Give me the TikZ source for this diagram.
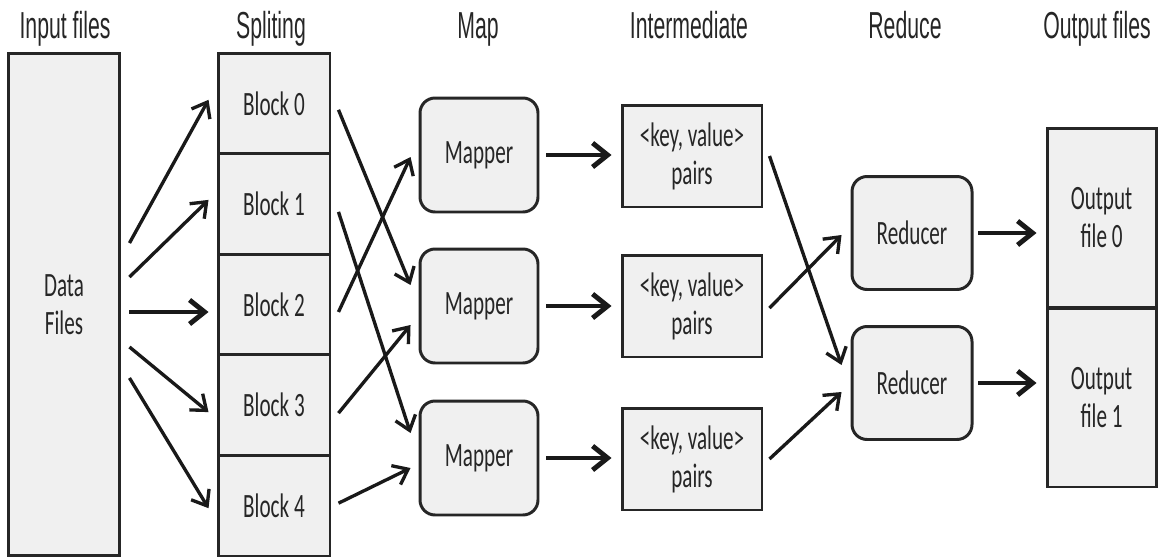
\documentclass[tikz,border=0pt]{standalone}
\usepackage{fontspec}
\setmainfont{Carlito}
\newfontfamily\headfamily{Liberation Sans}
\usepackage{graphicx}
\usetikzlibrary{arrows.meta}
% the source picture is squeezed sideways, so the texts are too
\newcommand{\sq}[1]{\scalebox{0.62}[1]{#1}}
\newcommand{\hq}[1]{\scalebox{0.565}[1]{#1}}
\tikzset{
    stage/.style={font=\headfamily\fontsize{21.4}{24}\selectfont, text=black!85, anchor=base},
    box/.style={draw=black!85, line width=1.7pt, fill=black!6, text=black!85,
        align=center, inner sep=0pt, font=\fontsize{19.4}{21.6}\selectfont},
    filebox/.style={box, minimum width=2.24cm, minimum height=10.06cm},
    blockbox/.style={box, minimum width=2.24cm, minimum height=2.012cm},
    mapbox/.style={box, rounded corners=0.3cm, minimum width=2.36cm, minimum height=2.28cm},
    pairbox/.style={box, minimum width=2.8cm, minimum height=2.04cm},
    redbox/.style={box, rounded corners=0.3cm, minimum width=2.4cm, minimum height=2.26cm},
    outbox/.style={box, minimum width=2.18cm, minimum height=3.58cm},
    flow/.style={draw=black!90, line width=1.9pt, -{Straight Barb[length=0.27cm, width=0.42cm]}},
    bigflow/.style={draw=black!90, line width=2.8pt, -{Straight Barb[length=0.3cm, width=0.48cm]}}
}
\begin{document}
\begin{tikzpicture}[x=0.02cm, y=-0.02cm]
    \useasboundingbox (0,0) rectangle (1158,558);
    % column titles
    \node[stage] (tin) at (65,38) {\hq{Input files}};
    \node[stage] (tsp) at (271,38) {\hq{Spliting}};
    \node[stage] (tmap) at (478,38) {\hq{Map}};
    \node[stage] (tint) at (689,38) {\hq{Intermediate}};
    \node[stage] (tred) at (905,38) {\hq{Reduce}};
    \node[stage] (tout) at (1097,38) {\hq{Output files}};
    % input
    \node[filebox] (data) at (64,304.5) {\sq{Data}\\\sq{Files}};
    % splits
    \node[blockbox] (b0) at (274,103.3) {\sq{Block 0}};
    \node[blockbox] (b1) at (274,203.9) {\sq{Block 1}};
    \node[blockbox] (b2) at (274,304.5) {\sq{Block 2}};
    \node[blockbox] (b3) at (274,405.1) {\sq{Block 3}};
    \node[blockbox] (b4) at (274,505.7) {\sq{Block 4}};
    % mappers
    \node[mapbox] (m1) at (479,155) {\sq{Mapper}};
    \node[mapbox] (m2) at (479,306) {\sq{Mapper}};
    \node[mapbox] (m3) at (479,458) {\sq{Mapper}};
    % intermediate pairs
    \node[pairbox] (p1) at (692,156) {\sq{<key, value>}\\\sq{pairs}};
    \node[pairbox] (p2) at (692,306) {\sq{<key, value>}\\\sq{pairs}};
    \node[pairbox] (p3) at (692,459) {\sq{<key, value>}\\\sq{pairs}};
    % reducers
    \node[redbox] (r1) at (912,233) {\sq{Reducer}};
    \node[redbox] (r2) at (912,383) {\sq{Reducer}};
    % output
    \node[outbox] (o0) at (1101.5,218) {\sq{Output}\\\sq{file 0}};
    \node[outbox] (o1) at (1101.5,397.5) {\sq{Output}\\\sq{file 1}};

    % data -> blocks
    \draw[flow] ([xshift=0.16cm,yshift=1.23cm]data.east) -- ([xshift=-0.16cm,yshift=0.07cm]b0.west);
    \draw[flow] ([xshift=0.16cm,yshift=0.55cm]data.east) -- ([xshift=-0.16cm,yshift=0.08cm]b1.west);
    \draw[bigflow] ([xshift=0.16cm,yshift=-0.15cm]data.east) -- ([xshift=-0.16cm,yshift=-0.15cm]b2.west);
    \draw[flow] ([xshift=0.16cm,yshift=-0.85cm]data.east) -- ([xshift=-0.16cm,yshift=-0.14cm]b3.west);
    \draw[flow] ([xshift=0.16cm,yshift=-1.47cm]data.east) -- ([xshift=-0.16cm,yshift=-0.05cm]b4.west);
    % blocks -> mappers
    \draw[flow] ([xshift=0.14cm,yshift=-0.13cm]b0.east) -- ([xshift=-0.16cm,yshift=0.42cm]m2.west);
    \draw[flow] ([xshift=0.14cm,yshift=-0.16cm]b1.east) -- ([xshift=-0.16cm,yshift=0.5cm]m3.west);
    \draw[flow] ([xshift=0.14cm,yshift=-0.15cm]b2.east) -- ([xshift=-0.16cm,yshift=-0.04cm]m1.west);
    \draw[flow] ([xshift=0.14cm,yshift=-0.16cm]b3.east) -- ([xshift=-0.16cm,yshift=-0.38cm]m2.west);
    \draw[flow] ([xshift=0.14cm,yshift=0.05cm]b4.east) -- ([xshift=-0.16cm,yshift=-0.2cm]m3.west);
    % mappers -> pairs
    \draw[bigflow] ([xshift=0.14cm]m1.east) -- ([xshift=-0.18cm]m1.east -| p1.west);
    \draw[bigflow] ([xshift=0.14cm]m2.east) -- ([xshift=-0.18cm]m2.east -| p2.west);
    \draw[bigflow] ([xshift=0.14cm]m3.east) -- ([xshift=-0.18cm]m3.east -| p3.west);
    % pairs -> reducers
    \draw[flow] ([xshift=0.12cm]p1.east) -- ([xshift=-0.18cm,yshift=0.36cm]r2.west);
    \draw[flow] ([xshift=0.12cm,yshift=-0.04cm]p2.east) -- ([xshift=-0.18cm,yshift=-0.04cm]r1.west);
    \draw[flow] ([xshift=0.12cm]p3.east) -- ([xshift=-0.18cm,yshift=-0.18cm]r2.west);
    % reducers -> output
    \draw[bigflow] ([xshift=0.1cm]r1.east) -- ([xshift=-0.18cm]r1.east -| o0.west);
    \draw[bigflow] ([xshift=0.1cm]r2.east) -- ([xshift=-0.18cm]r2.east -| o1.west);
\end{tikzpicture}
\end{document}
